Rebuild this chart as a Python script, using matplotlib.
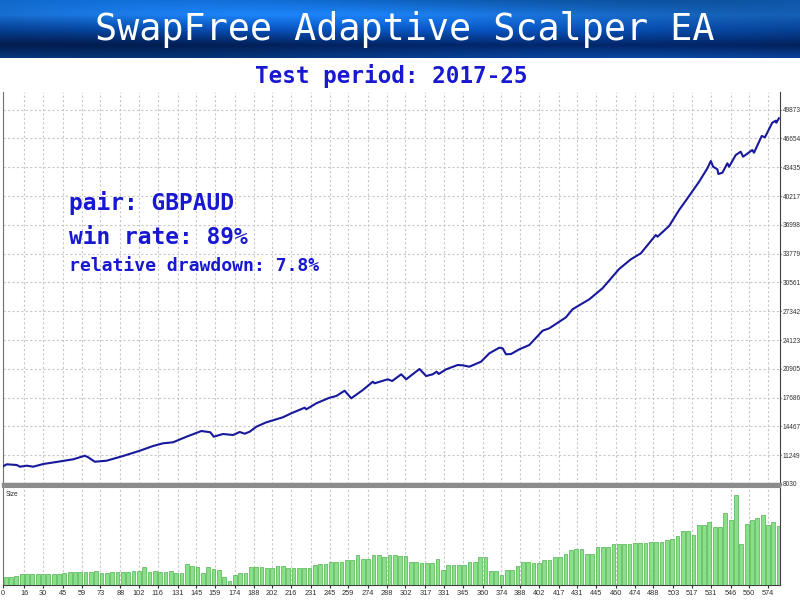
import numpy as np
import matplotlib.pyplot as plt
from matplotlib import font_manager

# texts
title = "SwapFree Adaptive Scalper EA"
subtitle = "Test period: 2017-25"
info_lines = ["pair: GBPAUD", "win rate: 89%", "relative drawdown: 7.8%"]

# balance curve (trade number, balance)
trade_no = [0, 2.8, 10.3, 12.7, 17.8, 22.7, 30.2, 41.4, 52.7, 61.4, 63.9, 68.9,
            77.7, 90.1, 102.7, 112.6, 120.1, 127.6, 137.7, 148.9, 155.6, 158.1,
            165.1, 172.6, 177.6, 181.3, 185.1, 190.1, 197.6, 210.0, 216.3, 226.3,
            227.6, 235.1, 245.0, 250.1, 256.3, 261.3, 270.0, 277.5, 278.8, 288.7,
            292.0, 298.8, 302.5, 312.5, 317.5, 322.4, 325.4, 326.9, 332.5, 341.2,
            344.9, 349.9, 358.7, 364.9, 372.4, 374.9, 377.4, 381.2, 387.4, 394.9,
            404.9, 409.9, 422.4, 427.3, 439.9, 449.8, 462.3, 471.1, 478.6, 489.8,
            491.1, 499.8, 507.3, 512.3, 522.3, 528.5, 531.1, 532.8, 536.0, 536.8,
            539.8, 543.5, 544.8, 549.8, 553.5, 555.3, 562.2, 563.5, 569.3, 571.7,
            577.2, 579.8, 580.2, 582.2]
balance = [10000, 10232, 10154, 9964, 10075, 9964, 10265, 10522, 10791, 11193, 11014, 10522,
           10634, 11160, 11752, 12277, 12579, 12691, 13317, 13954, 13808, 13317,
           13619, 13507, 13842, 13652, 13876, 14434, 14926, 15485, 15932, 16558,
           16379, 17050, 17676, 17866, 18458, 17609, 18536, 19464, 19285, 19732,
           19542, 20291, 19732, 20884, 20101, 20291, 20582, 20325, 20850, 21331,
           21297, 21141, 21700, 22638, 23264, 23197, 22527, 22560, 23085, 23566,
           25164, 25433, 26662, 27556, 28674, 29904, 32061, 33145, 33815, 35861,
           35671, 36867, 38655, 39695, 41818, 43316, 44132, 43495, 43204, 42679,
           42824, 43875, 43495, 44802, 45172, 44612, 45361, 45060, 46926, 46781,
           48413, 48636, 48413, 48904]

y_ticks = [8030, 11249, 14467, 17686, 20905, 24123, 27342, 30561, 33779,
           36998, 40217, 43435, 46654, 49873]
x_ticks = [0, 16, 30, 45, 59, 73, 88, 102, 116, 131, 145, 159, 174, 188, 202,
           216, 231, 245, 259, 274, 288, 302, 317, 331, 345, 360, 374, 388, 402,
           417, 431, 445, 460, 474, 488, 503, 517, 531, 546, 560, 574]

# lot size, one bar per 4 trades
trades_per_bar = 4
lot_size = [0.10, 0.10, 0.11, 0.13, 0.13, 0.13, 0.13, 0.13, 0.13, 0.13, 0.13, 0.14,
            0.15, 0.15, 0.15, 0.15, 0.15, 0.17, 0.14, 0.14, 0.15, 0.15, 0.15, 0.15,
            0.17, 0.17, 0.21, 0.15, 0.17, 0.15, 0.15, 0.17, 0.14, 0.14, 0.25, 0.22,
            0.21, 0.14, 0.21, 0.19, 0.18, 0.09, 0.05, 0.12, 0.14, 0.14, 0.21, 0.21,
            0.21, 0.20, 0.20, 0.22, 0.22, 0.20, 0.20, 0.20, 0.20, 0.20, 0.24, 0.25,
            0.25, 0.27, 0.27, 0.27, 0.30, 0.30, 0.36, 0.31, 0.31, 0.36, 0.36, 0.33,
            0.35, 0.35, 0.34, 0.34, 0.27, 0.27, 0.26, 0.26, 0.26, 0.31, 0.18, 0.24,
            0.24, 0.24, 0.24, 0.27, 0.27, 0.33, 0.33, 0.16, 0.16, 0.12, 0.18, 0.18,
            0.22, 0.27, 0.27, 0.26, 0.26, 0.30, 0.30, 0.33, 0.33, 0.37, 0.41, 0.43,
            0.43, 0.37, 0.37, 0.45, 0.45, 0.45, 0.49, 0.49, 0.49, 0.49, 0.50, 0.50,
            0.50, 0.51, 0.51, 0.51, 0.53, 0.55, 0.58, 0.64, 0.64, 0.59, 0.71, 0.71,
            0.75, 0.69, 0.69, 0.85, 0.77, 1.07, 0.48, 0.72, 0.77, 0.79, 0.83, 0.71,
            0.74, 0.70]

W, H = 800, 600
mono = 'DejaVu Sans Mono'
text_blue = '#1818d0'

# narrow font for the tiny axis labels, if there is one
try:
    font_manager.findfont('Liberation Sans Narrow', fallback_to_default=False)
    small_font, small_size = 'Liberation Sans Narrow', 5.8
except ValueError:
    small_font, small_size = 'Liberation Sans', 4.7

fig = plt.figure(figsize=(8, 6), dpi=100)

# banner with blue gradient
ax_b = fig.add_axes([0, 1 - 58 / H, 1, 58 / H])
t = np.linspace(0, 1, 58)[:, None]
xs = np.linspace(0, 1, 800)[None, :]
stops = [0, 0.25, 0.5, 0.78, 1.0]
rgb = [(0.06, 0.38, 0.74), (0.10, 0.45, 0.85), (0.03, 0.30, 0.68),
       (0.01, 0.13, 0.36), (0.03, 0.24, 0.55)]
img = np.zeros((58, 800, 3))
for c in range(3):
    col = np.interp(t[:, 0], stops, [p[c] for p in rgb])[:, None]
    shade = 1 + 0.15 * np.sin(5 * xs - 3 * t + 0.5)
    img[:, :, c] = np.clip(col * shade, 0, 1)
ax_b.imshow(img, aspect='auto', extent=[0, 1, 0, 1])
ax_b.axis('off')
fig.text(405 / W, 1 - 30 / H, title, color='white', fontsize=26.5,
         family=mono, ha='center', va='center')

fig.text(391 / W, 1 - 76 / H, subtitle, color=text_blue, fontsize=16.3,
         family=mono, weight='bold', ha='center', va='center')

# main balance chart
ax = fig.add_axes([3 / W, 116 / H, 777 / W, 392 / H])
ax.plot(trade_no, balance, color='#18189c', lw=1.5, zorder=3)
ax.set_xlim(0, 583)
ax.set_ylim(8030, 51844)
ax.set_yticks(y_ticks)
ax.set_xticks(x_ticks)
ax.yaxis.tick_right()
ax.tick_params(axis='y', length=1, pad=1, labelsize=small_size, colors='#303030')
ax.tick_params(axis='x', length=0, labelbottom=False)
for lab in ax.get_yticklabels():
    lab.set_family(small_font)
ax.grid(True, color='#c8c8c8', linestyle=(0, (2, 2)), lw=0.8)
ax.spines['top'].set_visible(False)
ax.spines['left'].set_color('#707070')
ax.spines['right'].set_color('#404040')
ax.spines['bottom'].set_color('#8c8c8c')
ax.spines['bottom'].set_linewidth(2.5)

for txt, ypx, fs in zip(info_lines, [203, 237, 266], [16.5, 16.5, 13.1]):
    fig.text(69 / W, 1 - ypx / H, txt, color=text_blue, fontsize=fs,
             family=mono, weight='bold', ha='left', va='center')

# lot size panel
ax2 = fig.add_axes([3 / W, 15 / H, 777 / W, 98 / H])
centers = np.arange(len(lot_size)) * trades_per_bar + trades_per_bar / 2
ax2.bar(centers, lot_size, width=trades_per_bar * 0.7, color='#8ae08a',
        edgecolor='#4cb44c', lw=0.5, zorder=3)
ax2.set_xlim(0, 583)
ax2.set_ylim(0, 1.16)
ax2.set_yticks([])
ax2.set_xticks(x_ticks)
ax2.set_xticklabels([str(v) for v in x_ticks])
ax2.tick_params(axis='x', length=2, pad=1.5, labelsize=small_size + 0.6,
                colors='#303030')
for lab in ax2.get_xticklabels():
    lab.set_family(small_font)
ax2.grid(True, axis='x', color='#c8c8c8', linestyle=(0, (2, 2)), lw=0.8)
ax2.spines['top'].set_color('#8c8c8c')
ax2.spines['top'].set_linewidth(1.5)
ax2.spines['left'].set_color('#707070')
ax2.spines['right'].set_color('#404040')
ax2.spines['bottom'].set_color('#404040')
ax2.text(0.003, 0.92, 'Size', transform=ax2.transAxes, fontsize=small_size,
         family=small_font, color='#303030', va='center')

fig.savefig('out.png', dpi=100)
